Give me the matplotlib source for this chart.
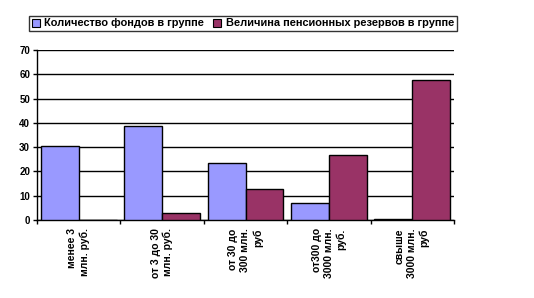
import numpy as np
import matplotlib
matplotlib.use("Agg")
import matplotlib.pyplot as plt
from matplotlib.patches import Patch

categories = ["менее 3\nмлн. руб.", "от 3 до 30\nмлн. руб.", "от 30 до\n300 млн.\nруб",
              "от300 до\n3000 млн.\nруб.", "свыше\n3000 млн.\nруб"]
funds_count = [30.3, 38.6, 23.3, 6.9, 0.3]
reserves = [0.0, 2.8, 12.6, 26.6, 57.5]
series_names = ["Количество фондов в группе", "Величина пенсионных резервов в группе"]
yticks = [0, 10, 20, 30, 40, 50, 60, 70]

plt.rcParams["font.family"] = ["Liberation Sans", "DejaVu Sans"]
plt.rcParams["font.weight"] = "bold"

W, H = 534, 298
fig = plt.figure(figsize=(W / 100, H / 100), dpi=100)
# область графика в пикселях: x 37..454, y 50..220
ax = fig.add_axes([37 / W, 1 - 220 / H, (454 - 37) / W, (220 - 50) / H])

x = np.arange(len(categories))
bw = 0.455
ax.bar(x - bw / 2, funds_count, bw, color="#9999FF", edgecolor="black", linewidth=1, zorder=3)
ax.bar(x + bw / 2, reserves, bw, color="#993366", edgecolor="black", linewidth=1, zorder=3)

ax.set_xlim(-0.5, len(categories) - 0.5)
ax.set_ylim(0, 70)
ax.set_yticks(yticks)
ax.tick_params(axis="y", length=3, width=1, labelsize=7, pad=2)
ax.grid(axis="y", color="black", linewidth=1, zorder=0)

ax.set_xticks(x)
ax.set_xticklabels(categories, rotation=90, fontsize=7.5, va="top", ha="center",
                   multialignment="right", linespacing=1.25)
ax.tick_params(axis="x", length=0, pad=6)
ax.set_xticks(np.arange(len(categories) + 1) - 0.5, minor=True)
ax.tick_params(axis="x", which="minor", length=3, width=1)

for s in ["top", "right"]:
    ax.spines[s].set_visible(False)
ax.spines["left"].set_linewidth(1)
ax.spines["bottom"].set_linewidth(1)

handles = [Patch(facecolor="#9999FF", edgecolor="black", linewidth=0.8),
           Patch(facecolor="#993366", edgecolor="black", linewidth=0.8)]
leg = fig.legend(handles, series_names, loc="center left",
                 bbox_to_anchor=(29 / W, 1 - 23.5 / H), ncol=2, fontsize=7.9,
                 frameon=True, fancybox=False, handlelength=0.75, handleheight=0.75,
                 handletextpad=0.4, columnspacing=0.8, borderpad=0.25, borderaxespad=0)
leg.get_frame().set_edgecolor("black")
leg.get_frame().set_linewidth(1)

fig.savefig("out.png", dpi=100)
